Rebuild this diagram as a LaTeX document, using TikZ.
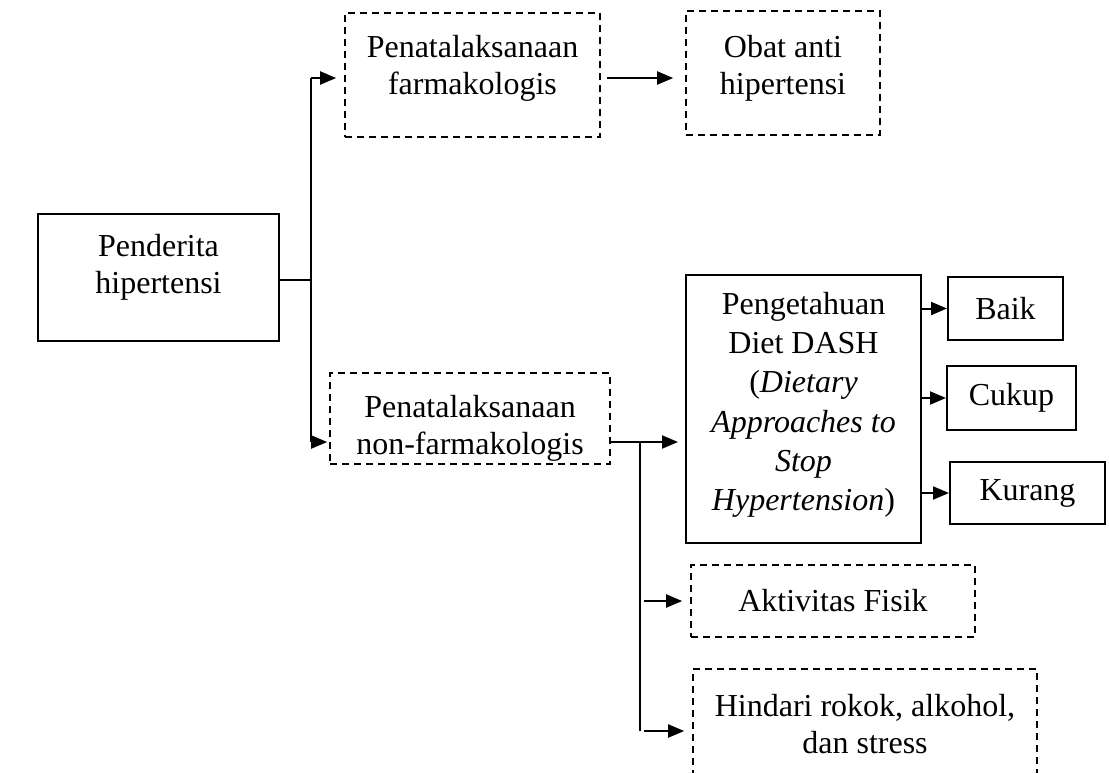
\documentclass[tikz,border=0pt]{standalone}
\usepackage{fontspec}
\setmainfont{Liberation Serif}
\usetikzlibrary{positioning,arrows.meta}

\begin{document}
\begin{tikzpicture}[x=0.5pt, y=-0.5pt,
      box/.style={draw, line width=1pt, inner sep=2pt, align=center, font=\fontsize{16pt}{18.5pt}\selectfont},
      dashbox/.style={box, line width=0.8pt, dash pattern=on 3.5pt off 2.5pt},
      topbox/.style 2 args={inner ysep=0pt, text height=#1, text depth=#2},
      line/.style={line width=1pt},
      arrow/.style={line width=1pt, -{Triangle[length=8pt, width=6.5pt]}}
    ]
      \clip (0,0) rectangle (1109,772);
      \node[box, topbox={39.5pt}{24pt}, minimum width=120.5pt] (pasien) at (158.5,277.5) {Penderita\\hipertensi};
      \node[dashbox, topbox={40.5pt}{21.5pt}, minimum width=127.5pt] (farma) at (472.5,75) {Penatalaksanaan\\farmakologis};
      \node[dashbox, topbox={41.5pt}{20.5pt}, minimum width=97pt] (obat) at (783,73) {Obat anti\\hipertensi};
      \node[dashbox, topbox={40.5pt}{5pt}, minimum width=140pt] (nonfarma) at (470,418.5) {Penatalaksanaan\\non-farmakologis};
      \node[box, topbox={118pt}{16pt}, minimum width=117.5pt, font=\fontsize{16pt}{19.6pt}\selectfont] (dash) at (803.5,408.5) {Pengetahuan\\Diet DASH\\(\textit{Dietary}\\\textit{Approaches to}\\\textit{Stop}\\\textit{Hypertension})};
      \node[box, minimum width=57.5pt, minimum height=31.5pt] (baik) at (1005.5,308.5) {Baik};
      \node[box, minimum width=64.5pt, minimum height=32pt] (cukup) at (1011.5,398) {Cukup};
      \node[box, minimum width=77.5pt, minimum height=31pt] (kurang) at (1027.5,493) {Kurang};
      \node[dashbox, minimum width=142pt, minimum height=36pt] (aktivitas) at (833,601) {Aktivitas Fisik};
      \node[dashbox, topbox={42pt}{13.5pt}, minimum width=172pt] (hindari) at (865,724.5) {Hindari rokok, alkohol,\\dan stress};
      \coordinate (ta) at (311,78);
      \coordinate (tb) at (311,442);
      \coordinate (na) at (640,442);
      \coordinate (nb) at (640,731);
      \draw[line] (pasien.east |- 0,280) -- (ta |- 0,280);
      \draw[line] (ta) -- (tb);
      \draw[arrow, shorten >=4pt] (ta) -- (farma.west |- ta);
      \draw[arrow, shorten >=1pt] (tb) -- (nonfarma.west |- tb);
      \draw[arrow, shorten <=3pt, shorten >=6pt] (farma.east |- ta) -- (obat.west |- ta);
      \draw[arrow, shorten >=3.5pt] (nonfarma.east |- na) -- (dash.west |- na);
      \draw[line] (na) -- (nb);
      \draw[arrow, shorten <=2pt, shorten >=4pt] (na |- aktivitas) -- (aktivitas.west);
      \draw[arrow, shorten <=2pt, shorten >=4pt] (nb) -- (hindari.west |- nb);
      \draw[arrow] (dash.east |- baik) -- (baik.west);
      \draw[arrow] (dash.east |- cukup) -- (cukup.west);
      \draw[arrow] (dash.east |- kurang) -- (kurang.west);
    \end{tikzpicture}
\end{document}
